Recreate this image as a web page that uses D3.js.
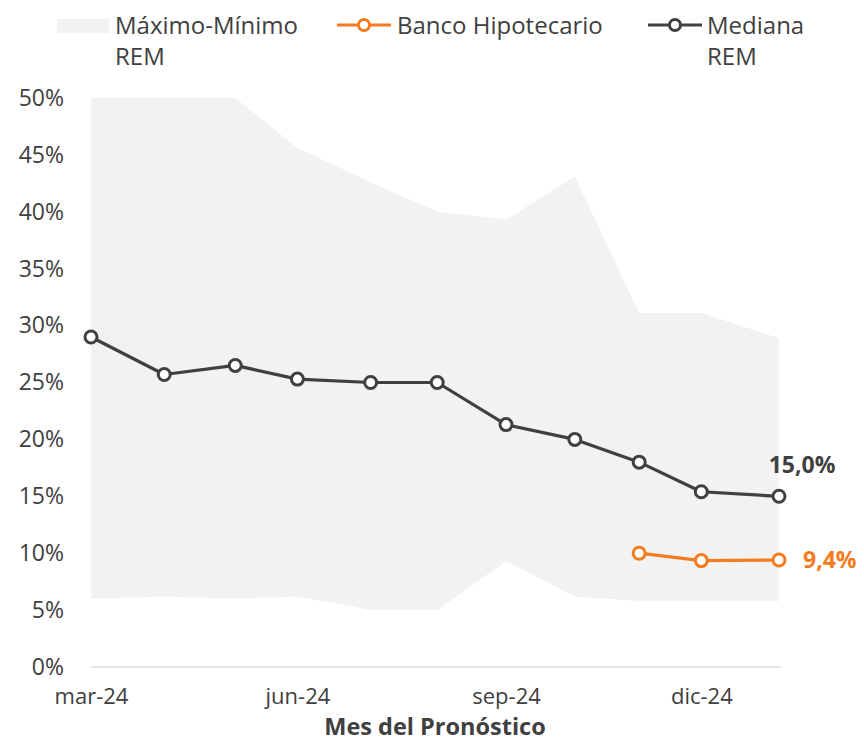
<!DOCTYPE html>
<html>
<head>
<meta charset="utf-8">
<script src="https://cdn.jsdelivr.net/npm/d3@7"></script>
<style>
  body { margin: 0; background: #fff; }
  svg { display: block; }
  text { font-family: "Open Sans", "Liberation Sans", sans-serif; fill: #404040; }
</style>
</head>
<body>
<svg width="864" height="742"></svg>
<script>
// forecast dates (as placed on the date axis)
const dates = ["2024-03-01", "2024-04-03", "2024-05-05", "2024-06-02", "2024-07-05",
  "2024-08-04", "2024-09-04", "2024-10-05", "2024-11-03", "2024-12-01", "2025-01-05"];
const maxRem = [50.0, 50.0, 50.0, 45.6, 42.6, 40.0, 39.3, 43.1, 31.1, 31.1, 28.9];
const minRem = [6.0, 6.2, 6.0, 6.2, 5.0, 5.0, 9.3, 6.2, 5.8, 5.8, 5.8];
const medianaRem = [29.0, 25.7, 26.5, 25.3, 25.0, 25.0, 21.3, 20.0, 18.0, 15.4, 15.0];
const bancoDates = ["2024-11-03", "2024-12-01", "2025-01-05"];
const bancoHip = [10.0, 9.35, 9.4];
const yTicks = [0, 5, 10, 15, 20, 25, 30, 35, 40, 45, 50];
const xTickIdx = [0, 3, 6, 9];
const xTickLabels = ["mar-24", "jun-24", "sep-24", "dic-24"];

const parse = d3.timeParse("%Y-%m-%d");
const dark = "#404040", orange = "#f47b20", band = "#f2f2f2";

const svg = d3.select("svg");

const x = d3.scaleTime()
  .domain([parse(dates[0]), parse(dates[dates.length - 1])])
  .range([91, 779]);
const y = d3.scaleLinear().domain([0, 50]).range([667, 98]);

const rows = dates.map((d, i) => ({ date: parse(d), max: maxRem[i], min: minRem[i], med: medianaRem[i] }));
const banco = bancoDates.map((d, i) => ({ date: parse(d), v: bancoHip[i] }));

// max-min band
svg.append("path")
  .datum(rows)
  .attr("fill", band)
  .attr("d", d3.area().x(d => x(d.date)).y0(d => y(d.min)).y1(d => y(d.max)));

// y axis labels
svg.append("g")
  .attr("transform", "translate(64,0)")
  .call(d3.axisLeft(y).tickValues(yTicks).tickFormat(d => d + "%").tickSize(0).tickPadding(0))
  .call(g => g.select(".domain").remove())
  .selectAll("text")
  .attr("font-size", 23)
  .attr("fill", dark)
  .style("font-family", "'Open Sans', sans-serif");

// x axis
svg.append("line")
  .attr("x1", x.range()[0]).attr("x2", x.range()[1] + 2)
  .attr("y1", y(0)).attr("y2", y(0))
  .attr("stroke", "#d9d9d9").attr("stroke-width", 1.5);

svg.append("g")
  .attr("transform", `translate(0,${y(0)})`)
  .call(d3.axisBottom(x)
    .tickValues(xTickIdx.map(i => rows[i].date))
    .tickFormat((d, i) => xTickLabels[i])
    .tickSize(0).tickPadding(21))
  .call(g => g.select(".domain").remove())
  .selectAll("text")
  .attr("font-size", 22)
  .attr("fill", dark)
  .style("font-family", "'Open Sans', sans-serif");

svg.append("text")
  .attr("x", 435).attr("y", 735)
  .attr("text-anchor", "middle")
  .attr("font-size", 23.5)
  .attr("font-weight", "bold")
  .attr("fill", "#262626")
  .text("Mes del Pronóstico");

// series
function series(data, valueKey, color) {
  svg.append("path")
    .datum(data)
    .attr("fill", "none")
    .attr("stroke", color)
    .attr("stroke-width", 3.2)
    .attr("stroke-linejoin", "round")
    .attr("d", d3.line().x(d => x(d.date)).y(d => y(d[valueKey])));
  svg.append("g")
    .selectAll("circle")
    .data(data)
    .join("circle")
    .attr("cx", d => x(d.date))
    .attr("cy", d => y(d[valueKey]))
    .attr("r", 6)
    .attr("fill", "#fff")
    .attr("stroke", color)
    .attr("stroke-width", 3);
}
series(rows, "med", dark);
series(banco, "v", orange);

const fmt = v => v.toFixed(1).replace(".", ",") + "%";
const lastMed = rows[rows.length - 1];
svg.append("text")
  .attr("x", x(lastMed.date) + 23).attr("y", y(lastMed.med) - 23)
  .attr("text-anchor", "middle")
  .attr("font-size", 23).attr("font-weight", "bold")
  .attr("fill", "#404040")
  .text(fmt(lastMed.med));
const lastB = banco[banco.length - 1];
svg.append("text")
  .attr("x", x(lastB.date) + 24).attr("y", y(lastB.v) + 8)
  .attr("font-size", 23).attr("font-weight", "bold")
  .style("fill", orange)
  .text(fmt(lastB.v));

// legend
const lg = svg.append("g");
lg.append("rect").attr("x", 57).attr("y", 19).attr("width", 52).attr("height", 14).attr("fill", band);
function legendText(x0, lines) {
  lines.forEach((t, i) => {
    lg.append("text").attr("x", x0).attr("y", 34 + i * 31)
      .attr("font-size", 24).attr("fill", "#404040").text(t);
  });
}
legendText(115, ["Máximo-Mínimo", "REM"]);
function legendLine(x0, color) {
  lg.append("line").attr("x1", x0).attr("x2", x0 + 54).attr("y1", 25).attr("y2", 25)
    .attr("stroke", color).attr("stroke-width", 3.2);
  lg.append("circle").attr("cx", x0 + 27).attr("cy", 25).attr("r", 5.5)
    .attr("fill", "#fff").attr("stroke", color).attr("stroke-width", 3);
}
legendLine(337, orange);
legendText(397, ["Banco Hipotecario"]);
legendLine(648, dark);
legendText(707, ["Mediana", "REM"]);
</script>
</body>
</html>
